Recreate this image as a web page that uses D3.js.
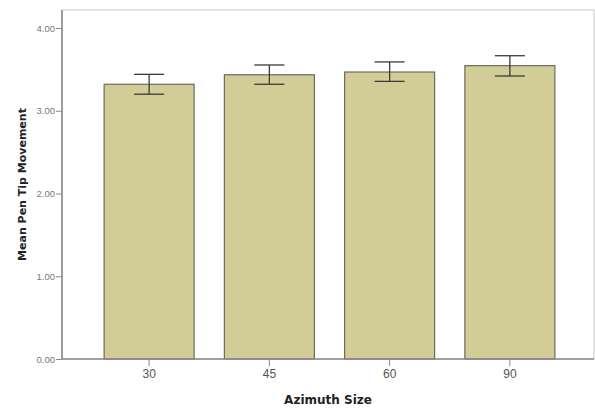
<!DOCTYPE html>
<html>
<head>
<meta charset="utf-8">
<script src="https://cdn.jsdelivr.net/npm/d3@7"></script>
<style>
  html, body { margin: 0; padding: 0; background: #fff; }
  svg { display: block; }
</style>
</head>
<body>
<div id="chart"></div>
<script>
// Mean pen tip movement by azimuth size, with error bars
const categories = ["30", "45", "60", "90"];
const means = [3.32, 3.435, 3.468, 3.545];
const errLow = [3.20, 3.32, 3.355, 3.42];
const errHigh = [3.44, 3.553, 3.59, 3.665];
const yTicks = [0, 1, 2, 3, 4];

const W = 595, H = 410;
const frame = { left: 62, right: 594, top: 10, bottom: 359 };

const svg = d3.select("#chart").append("svg")
  .attr("width", W).attr("height", H);

const x = d3.scaleBand()
  .domain(categories)
  .range([89, 570])
  .paddingInner(0.25)
  .paddingOuter(0.125);

const y = d3.scaleLinear()
  .domain([0, 4])
  .range([frame.bottom, frame.bottom - 4 * 82.75]);

// plot frame
svg.append("rect")
  .attr("x", frame.left).attr("y", frame.top)
  .attr("width", frame.right - frame.left)
  .attr("height", frame.bottom - frame.top)
  .attr("fill", "#fff")
  .attr("stroke", "#c8c8c8")
  .attr("stroke-width", 1);

// bars
const bw = 90;
svg.append("g").selectAll("rect")
  .data(categories)
  .join("rect")
  .attr("x", (d) => x(d) + x.bandwidth() / 2 - bw / 2)
  .attr("y", (d, i) => y(means[i]))
  .attr("width", bw)
  .attr("height", (d, i) => y(0) - y(means[i]))
  .attr("fill", "#d2cd96")
  .attr("stroke", "#6a6a60")
  .attr("stroke-width", 1.2);

// error bars
const eg = svg.append("g").attr("stroke", "#3a3a3a").attr("stroke-width", 1.3);
categories.forEach((c, i) => {
  const cx = x(c) + x.bandwidth() / 2;
  eg.append("line").attr("x1", cx).attr("x2", cx)
    .attr("y1", y(errLow[i])).attr("y2", y(errHigh[i]));
  eg.append("line").attr("x1", cx - 15).attr("x2", cx + 15)
    .attr("y1", y(errHigh[i])).attr("y2", y(errHigh[i]));
  eg.append("line").attr("x1", cx - 15).attr("x2", cx + 15)
    .attr("y1", y(errLow[i])).attr("y2", y(errLow[i]));
});

// y axis
const yAxis = svg.append("g")
  .attr("transform", `translate(${frame.left},0)`)
  .call(d3.axisLeft(y).tickValues(yTicks).tickFormat(d3.format(".2f")).tickSize(6).tickSizeOuter(0));
yAxis.select(".domain").attr("stroke", "#8a8a8a").attr("stroke-width", 1.6)
  .attr("d", `M0,${frame.top}V${frame.bottom}`);
yAxis.selectAll(".tick line").attr("stroke", "#8a8a8a");
yAxis.selectAll(".tick text")
  .attr("x", -7)
  .attr("fill", "#777")
  .style("font-family", "Liberation Sans, Arial, sans-serif")
  .style("font-size", "9.5px");

// x axis
const xAxis = svg.append("g")
  .attr("transform", `translate(0,${frame.bottom})`)
  .call(d3.axisBottom(x).tickSize(7).tickSizeOuter(0));
xAxis.select(".domain").attr("stroke", "#8a8a8a").attr("stroke-width", 1.6)
  .attr("d", `M${frame.left},0H${frame.right}`);
xAxis.selectAll(".tick line").attr("stroke", "#8a8a8a");
xAxis.selectAll(".tick text")
  .attr("y", 10)
  .attr("fill", "#555")
  .style("font-family", "Liberation Sans, Arial, sans-serif")
  .style("font-size", "12px");

// axis titles
svg.append("text")
  .attr("x", (frame.left + frame.right) / 2)
  .attr("y", 404)
  .attr("text-anchor", "middle")
  .attr("fill", "#222")
  .style("font-family", "DejaVu Sans, Verdana, sans-serif")
  .style("font-weight", "bold")
  .style("font-size", "12px")
  .text("Azimuth Size");

svg.append("text")
  .attr("transform", `translate(26,${(frame.top + frame.bottom) / 2}) rotate(-90)`)
  .attr("text-anchor", "middle")
  .attr("fill", "#222")
  .style("font-family", "DejaVu Sans, Verdana, sans-serif")
  .style("font-weight", "bold")
  .style("font-size", "11px")
  .text("Mean Pen Tip Movement");
</script>
</body>
</html>
